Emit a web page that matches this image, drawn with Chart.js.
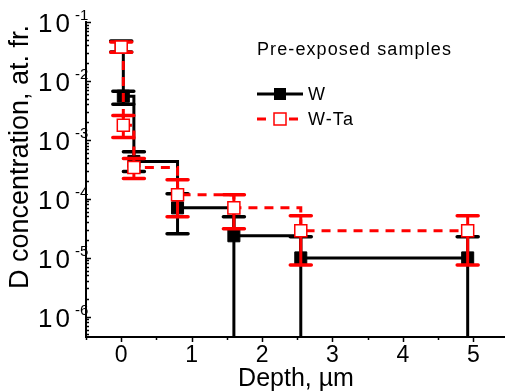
<!DOCTYPE html>
<html>
<head>
<meta charset="utf-8">
<script src="https://cdn.jsdelivr.net/npm/chart.js"></script>
<style>
  html, body { margin: 0; padding: 0; background: #fff; }
  #wrap { width: 505px; height: 392px; }
</style>
</head>
<body>
<div id="wrap"><canvas id="depthChart" width="505" height="392"></canvas></div>
<script>
// depth in um, D concentration in at. fr.
const depth = [0, 0.03, 0.18, 0.8, 1.6, 2.55, 4.92];

const wConc = [0.038, 5.5e-3, 4.3e-4, 7.0e-5, 2.35e-5, 9.9e-6, 9.9e-6];
const wHigh = [0.0474, 6.7e-3, 6.3e-4, 1.22e-4, 4.95e-5, 2.26e-5, 2.26e-5];
const wLow  = [0.031, 4.0e-3, 2.9e-4, 2.55e-5, 0, 0, 0];   // 0 = bar runs off the axis

const wtaConc = [0.0375, 1.76e-3, 3.4e-4, 1.17e-4, 7.0e-5, 2.86e-5, 2.86e-5];
const wtaHigh = [0.0456, 2.6e-3, 4.8e-4, 2.1e-4, 1.17e-4, 5.15e-5, 5.15e-5];
const wtaLow  = [0.0308, 1.1e-3, 2.2e-4, 4.95e-5, 3.1e-5, 7.5e-6, 7.5e-6];

const xTicks = [0, 1, 2, 3, 4, 5];
const yDecades = [-1, -2, -3, -4, -5, -6];

const RED = '#ff0000';
const FONT = '"Liberation Sans", Arial, sans-serif';

// error bars per dataset index (W-Ta first so it draws on top)
const errSets = [
  { high: wtaHigh, low: wtaLow, color: RED },
  { high: wHigh, low: wLow, color: '#000' }
];

const errorBars = {
  id: 'errorBars',
  beforeDatasetDraw(chart, args) {
    const eb = errSets[args.index];
    if (!eb) return;
    const { ctx, chartArea: a } = chart;
    const x = chart.scales.x, y = chart.scales.y;
    ctx.save();
    ctx.beginPath();
    ctx.rect(a.left, a.top - 10, a.right - a.left, a.bottom - a.top + 10);
    ctx.clip();
    ctx.strokeStyle = eb.color;
    depth.forEach((d, k) => {
      const px = x.getPixelForValue(d);
      const top = y.getPixelForValue(eb.high[k]);
      const bot = eb.low[k] > 0 ? y.getPixelForValue(eb.low[k]) : a.bottom;
      ctx.lineWidth = 3;
      ctx.lineCap = 'butt';
      ctx.beginPath();
      ctx.moveTo(px, top);
      ctx.lineTo(px, bot);
      ctx.stroke();
      ctx.lineWidth = 3.5;
      ctx.lineCap = 'round';
      ctx.beginPath();
      ctx.moveTo(px - 10.5, top);
      ctx.lineTo(px + 10.5, top);
      if (eb.low[k] > 0) {
        ctx.moveTo(px - 10.5, bot);
        ctx.lineTo(px + 10.5, bot);
      }
      ctx.stroke();
    });
    ctx.restore();
  }
};

const axisDecor = {
  id: 'axisDecor',
  afterDraw(chart) {
    const { ctx, chartArea: a } = chart;
    const x = chart.scales.x, y = chart.scales.y;
    ctx.save();
    ctx.strokeStyle = '#000';
    ctx.fillStyle = '#000';
    ctx.lineWidth = 1.5;

    // y ticks, inward
    ctx.beginPath();
    for (let e = -7; e <= -1; e++) {
      for (let m = 1; m <= 9; m++) {
        const v = m * Math.pow(10, e);
        if (v < y.min || v > y.max * 1.0001) continue;
        const py = Math.round(y.getPixelForValue(v)) + 0.5;
        const len = m === 1 ? 5 : 3;
        ctx.moveTo(a.left, py);
        ctx.lineTo(a.left + len, py);
      }
    }
    // x ticks, outward
    for (let v = -0.5; v <= x.max + 1e-6; v += 0.5) {
      const px = Math.round(x.getPixelForValue(v)) + 0.5;
      const major = Math.abs(v - Math.round(v)) < 1e-6;
      ctx.moveTo(px, a.bottom);
      ctx.lineTo(px, a.bottom + (major ? 5 : 3));
    }
    ctx.stroke();

    // y tick labels 10^n
    yDecades.forEach(n => {
      const py = y.getPixelForValue(Math.pow(10, n));
      ctx.font = '26px ' + FONT;
      ctx.letterSpacing = '3px';
      ctx.textAlign = 'left';
      ctx.textBaseline = 'middle';
      ctx.fillText('10', 38, py + 3);
      ctx.letterSpacing = '0px';
      ctx.font = '15px ' + FONT;
      ctx.fillText(String(n), 75, py - 6);
    });

    // x tick labels
    ctx.font = '23px ' + FONT;
    ctx.textAlign = 'center';
    ctx.textBaseline = 'top';
    xTicks.forEach(v => {
      ctx.fillText(String(v), x.getPixelForValue(v), a.bottom + 7);
    });

    // axis titles
    ctx.textBaseline = 'middle';
    ctx.font = '25px ' + FONT;
    ctx.fillText('Depth, \u00b5m', 296, 379);
    ctx.save();
    ctx.translate(21, 157);
    ctx.rotate(-Math.PI / 2);
    ctx.font = '27px ' + FONT;
    ctx.fillText('D concentration, at. fr.', 0, 0);
    ctx.restore();

    // legend
    ctx.textAlign = 'left';
    ctx.font = '18px ' + FONT;
    ctx.letterSpacing = '1.1px';
    ctx.fillText('Pre-exposed samples', 257, 50);
    ctx.fillText('W', 308, 95);
    ctx.fillText('W-Ta', 308, 120);
    ctx.letterSpacing = '0px';

    ctx.lineWidth = 3;
    ctx.strokeStyle = '#000';
    ctx.beginPath();
    ctx.moveTo(257, 94);
    ctx.lineTo(303, 94);
    ctx.stroke();
    ctx.fillRect(274, 88, 12, 12);

    ctx.strokeStyle = RED;
    ctx.setLineDash([9, 7]);
    ctx.beginPath();
    ctx.moveTo(257, 119);
    ctx.lineTo(303, 119);
    ctx.stroke();
    ctx.setLineDash([]);
    ctx.fillStyle = '#fff';
    ctx.fillRect(273, 112, 14, 14);
    ctx.lineWidth = 1.5;
    ctx.strokeRect(274, 113, 12, 12);
    ctx.restore();
  }
};

const ctx = document.getElementById('depthChart').getContext('2d');
new Chart(ctx, {
  type: 'line',
  data: {
    datasets: [
      {
        label: 'W-Ta',
        data: depth.map((d, i) => ({ x: d, y: wtaConc[i] })),
        borderColor: RED,
        borderWidth: 3,
        borderDash: [9, 7],
        stepped: true,
        pointStyle: 'rect',
        pointRadius: 8.5,
        pointBackgroundColor: '#fff',
        pointBorderColor: RED,
        pointBorderWidth: 1.5,
        order: 0
      },
      {
        label: 'W',
        data: depth.map((d, i) => ({ x: d, y: wConc[i] })),
        borderColor: '#000',
        borderWidth: 3,
        stepped: true,
        pointStyle: 'rect',
        pointRadius: 8.5,
        pointBackgroundColor: '#000',
        pointBorderColor: '#000',
        pointBorderWidth: 1,
        order: 1
      }
    ]
  },
  options: {
    responsive: false,
    animation: false,
    events: [],
    layout: { autoPadding: false, padding: { top: 22, right: 0, left: 0, bottom: 0 } },
    plugins: { legend: { display: false }, tooltip: { enabled: false } },
    scales: {
      x: {
        type: 'linear',
        min: -0.5,
        max: 5.45,
        grid: { display: false },
        border: { color: '#000', width: 2 },
        ticks: { display: false },
        afterFit(s) { s.height = 55; }
      },
      y: {
        type: 'logarithmic',
        min: 4.5e-7,
        max: 0.1,
        grid: { display: false },
        border: { color: '#000', width: 2 },
        ticks: { display: false },
        afterFit(s) { s.width = 86; }
      }
    }
  },
  plugins: [errorBars, axisDecor]
});
</script>
</body>
</html>
